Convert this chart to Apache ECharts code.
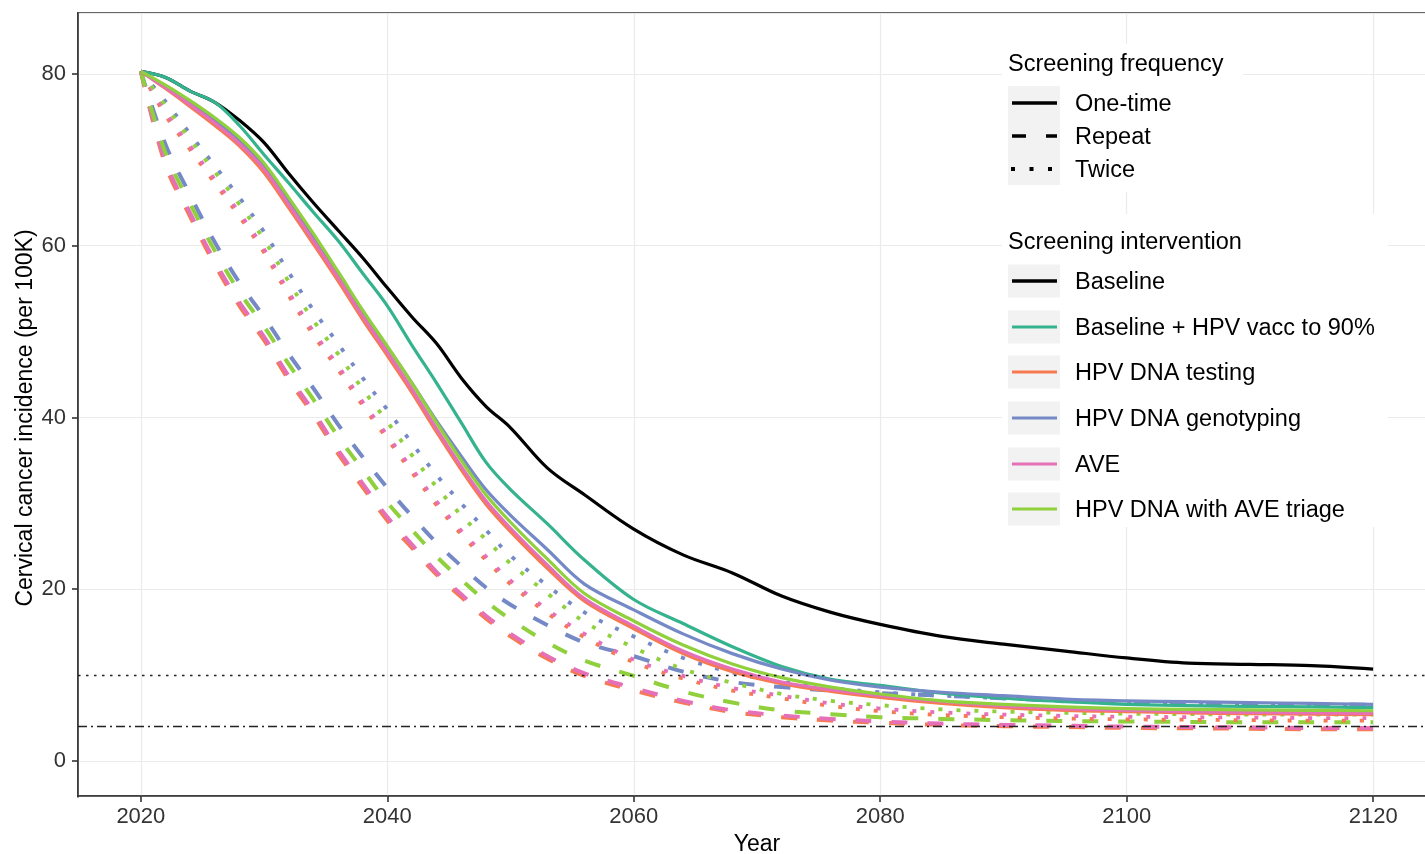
<!DOCTYPE html>
<html>
<head>
<meta charset="utf-8">
<title>Cervical cancer incidence projections</title>
<script src="https://cdn.jsdelivr.net/npm/echarts@6/dist/echarts.min.js"></script>
<style>
  html, body { margin: 0; padding: 0; background: #fff; }
  #chart { width: 1425px; height: 854px; }
</style>
</head>
<body>
<div id="chart"></div>
<script>
// Projection years shared by every scenario
const years = [2020, 2022, 2024, 2026, 2028, 2030, 2032, 2034, 2036, 2038, 2040, 2042, 2044, 2046, 2048, 2050, 2053, 2056, 2060, 2064, 2068, 2072, 2076, 2080, 2085, 2090, 2095, 2100, 2105, 2110, 2115, 2120];

// Axis ticks
const xTicks = [2020, 2040, 2060, 2080, 2100, 2120];
const yTicks = [0, 20, 40, 60, 80];

// Incidence per 100K, one-time screening
const baselineOnce   = [80.3, 79.6, 78.0, 76.7, 74.6, 72.0, 68.4, 65.0, 61.8, 58.6, 55.1, 51.7, 48.6, 44.6, 41.3, 38.8, 34.1, 31.0, 27.0, 24.0, 21.9, 19.2, 17.3, 15.9, 14.5, 13.6, 12.8, 12.0, 11.4, 11.25, 11.1, 10.7];
const vaccOnce       = [80.3, 79.6, 78.0, 76.7, 74.0, 70.6, 67.3, 63.9, 60.6, 56.8, 53.0, 48.4, 44.0, 39.4, 34.8, 31.6, 27.6, 23.4, 18.8, 16.0, 13.3, 11.0, 9.5, 8.8, 7.9, 7.3, 6.9, 6.6, 6.45, 6.35, 6.3, 6.2];
const testingOnce    = [80.3, 78.3, 76.2, 74.0, 71.6, 68.5, 64.4, 60.2, 55.9, 51.4, 47.2, 42.9, 38.3, 33.9, 29.9, 26.7, 22.4, 18.6, 15.4, 12.5, 10.4, 9.0, 8.1, 7.4, 6.7, 6.2, 5.9, 5.75, 5.6, 5.5, 5.45, 5.4];
const genotypingOnce = [80.3, 78.5, 76.6, 74.6, 72.3, 69.3, 65.3, 61.1, 56.8, 52.3, 48.2, 44.0, 39.6, 35.5, 31.6, 28.6, 24.6, 20.6, 17.6, 14.8, 12.5, 10.7, 9.4, 8.6, 8.0, 7.6, 7.2, 7.0, 6.9, 6.8, 6.7, 6.6];
const aveOnce        = [80.3, 78.4, 76.4, 74.3, 71.9, 68.9, 64.8, 60.6, 56.3, 51.8, 47.6, 43.3, 38.7, 34.3, 30.3, 27.1, 22.8, 18.9, 15.7, 12.8, 10.7, 9.2, 8.3, 7.6, 6.9, 6.4, 6.05, 5.9, 5.75, 5.65, 5.6, 5.55];
const triageOnce     = [80.3, 78.7, 76.9, 74.9, 72.6, 69.6, 65.6, 61.4, 57.0, 52.5, 48.3, 44.0, 39.4, 35.0, 31.0, 27.8, 23.5, 19.5, 16.3, 13.5, 11.3, 9.7, 8.6, 7.8, 7.0, 6.6, 6.3, 6.1, 6.0, 5.95, 5.9, 5.85];

// Repeat screening
const testingRepeat    = [80.3, 69.4, 63.4, 57.8, 53.0, 49.0, 44.4, 40.3, 35.8, 31.9, 28.0, 24.8, 21.7, 19.1, 16.6, 14.5, 11.9, 9.9, 8.2, 6.8, 5.7, 5.1, 4.7, 4.45, 4.2, 4.05, 3.95, 3.85, 3.8, 3.75, 3.7, 3.7];
const genotypingRepeat = [80.3, 71.8, 65.9, 60.4, 55.7, 51.7, 47.4, 43.4, 39.2, 35.4, 31.8, 28.5, 25.4, 22.7, 20.2, 18.2, 15.8, 13.8, 12.2, 10.4, 9.2, 8.6, 8.2, 7.9, 7.6, 7.3, 7.0, 6.85, 6.75, 6.65, 6.6, 6.55];
const aveRepeat        = [80.3, 69.8, 63.8, 58.2, 53.4, 49.4, 44.8, 40.7, 36.2, 32.3, 28.4, 25.2, 22.0, 19.4, 16.9, 14.8, 12.2, 10.2, 8.5, 7.0, 5.9, 5.3, 4.9, 4.6, 4.35, 4.2, 4.1, 4.0, 3.95, 3.9, 3.85, 3.85];
const triageRepeat     = [80.3, 70.8, 64.9, 59.4, 54.6, 50.6, 46.2, 42.1, 37.8, 33.9, 30.1, 26.9, 23.8, 21.1, 18.6, 16.5, 13.8, 11.7, 9.9, 8.1, 6.8, 5.9, 5.45, 5.1, 4.9, 4.75, 4.65, 4.6, 4.55, 4.5, 4.5, 4.5];

// Screening twice
const testingTwice    = [80.3, 75.2, 71.2, 67.3, 63.4, 59.2, 54.2, 49.6, 45.6, 41.4, 37.5, 33.6, 29.8, 26.4, 23.4, 20.6, 17.2, 14.4, 11.5, 9.6, 8.2, 7.3, 6.4, 5.8, 5.35, 5.1, 4.95, 4.85, 4.8, 4.75, 4.7, 4.7];
const genotypingTwice = [80.3, 76.8, 73.0, 69.3, 65.6, 61.6, 56.9, 52.5, 48.6, 44.6, 40.9, 37.0, 33.3, 30.0, 26.9, 23.9, 20.4, 17.3, 14.5, 12.0, 10.3, 9.2, 8.5, 8.0, 7.6, 7.3, 7.0, 6.8, 6.7, 6.6, 6.55, 6.5];
const aveTwice        = [80.3, 75.6, 71.6, 67.7, 63.8, 59.6, 54.6, 50.0, 46.0, 41.8, 37.9, 34.0, 30.2, 26.8, 23.8, 21.0, 17.6, 14.8, 11.8, 9.9, 8.5, 7.6, 6.7, 6.1, 5.65, 5.4, 5.25, 5.15, 5.1, 5.05, 5.0, 5.0];
const triageTwice     = [80.3, 76.3, 72.4, 68.6, 64.8, 60.7, 55.8, 51.3, 47.4, 43.3, 39.5, 35.6, 31.9, 28.6, 25.8, 23.0, 19.5, 16.2, 13.2, 10.7, 9.1, 7.8, 7.0, 6.5, 6.0, 5.75, 5.6, 5.5, 5.45, 5.4, 5.4, 5.4];

// Reference levels
const refDotted = 10;
const refDotDash = 4;

// Legend entries
const frequencyNames = ['One-time', 'Repeat', 'Twice'];
const interventionNames = ['Baseline', 'Baseline + HPV vacc to 90%', 'HPV DNA testing', 'HPV DNA genotyping', 'AVE', 'HPV DNA with AVE triage'];

const COLORS = {
  'Baseline': '#000000',
  'Baseline + HPV vacc to 90%': '#35b28e',
  'HPV DNA testing': '#f7794f',
  'HPV DNA genotyping': '#7589c7',
  'AVE': '#e570b8',
  'HPV DNA with AVE triage': '#8fd03c'
};

const FONT = '"Liberation Sans", Arial, Helvetica, sans-serif';

const LINE_TYPES = {
  'One-time': { type: 'solid', width: 3.2 },
  'Repeat':   { type: [16, 20], width: 4 },
  'Twice':    { type: [4, 14], width: 3.8 }
};

// Draw order: repeat, twice, then one-time on top
const scenarios = [
  ['HPV DNA testing', 'Repeat', testingRepeat],
  ['HPV DNA genotyping', 'Repeat', genotypingRepeat],
  ['AVE', 'Repeat', aveRepeat],
  ['HPV DNA with AVE triage', 'Repeat', triageRepeat],
  ['HPV DNA testing', 'Twice', testingTwice],
  ['HPV DNA genotyping', 'Twice', genotypingTwice],
  ['AVE', 'Twice', aveTwice],
  ['HPV DNA with AVE triage', 'Twice', triageTwice],
  ['Baseline', 'One-time', baselineOnce],
  ['Baseline + HPV vacc to 90%', 'One-time', vaccOnce],
  ['HPV DNA testing', 'One-time', testingOnce],
  ['HPV DNA genotyping', 'One-time', genotypingOnce],
  ['AVE', 'One-time', aveOnce],
  ['HPV DNA with AVE triage', 'One-time', triageOnce]
];

const series = scenarios.map(([intervention, freq, values]) => ({
  name: intervention + ' (' + freq + ')',
  type: 'line',
  data: years.map((y, i) => [y, values[i]]),
  showSymbol: false,
  smooth: 0.35,
  silent: true,
  lineStyle: {
    color: COLORS[intervention],
    width: LINE_TYPES[freq].width,
    type: LINE_TYPES[freq].type,
    cap: 'butt',
    join: 'round'
  }
}));

// Horizontal reference lines
series.push({
  name: 'Reference levels',
  type: 'line',
  data: [],
  silent: true,
  markLine: {
    silent: true,
    symbol: 'none',
    label: { show: false },
    animation: false,
    data: [
      { yAxis: refDotted, lineStyle: { color: '#222', width: 1.3, type: [2.5, 5.5] } },
      { yAxis: refDotDash, lineStyle: { color: '#222', width: 1.3, type: [9, 4, 2, 4] } }
    ]
  }
});

// Legend drawn as boxes with grey key backgrounds
const graphics = [];
const LEG_X = 1008, KEY_W = 52, LINE_X1 = 1012, LINE_X2 = 1057, LABEL_X = 1075, LEG_FS = 23.5, TXT_DY = 2;

graphics.push({ type: 'rect', z: 10, shape: { x: 1002, y: 44, width: 241, height: 148 }, style: { fill: '#fff' } });
graphics.push({ type: 'text', z: 11, x: LEG_X, y: 63 + TXT_DY, style: { text: 'Screening frequency', fontSize: LEG_FS, fontFamily: FONT, fill: '#000', align: 'left', verticalAlign: 'middle' } });
graphics.push({ type: 'rect', z: 11, shape: { x: LEG_X, y: 86, width: KEY_W, height: 99 }, style: { fill: '#f2f2f2' } });
const freqRows = [103, 136, 169];
const freqDash = { 'One-time': null, 'Repeat': [14, 20], 'Twice': [4, 14.5] };
frequencyNames.forEach((nm, i) => {
  const cy = freqRows[i];
  graphics.push({ type: 'line', z: 12, shape: { x1: nm === 'Twice' ? 1011 : LINE_X1, y1: cy, x2: LINE_X2, y2: cy },
    style: { stroke: '#000', lineWidth: nm === 'Twice' ? 3.8 : 3.5, lineDash: freqDash[nm], lineCap: 'butt' } });
  graphics.push({ type: 'text', z: 12, x: LABEL_X, y: cy + TXT_DY, style: { text: nm, fontSize: LEG_FS, fontFamily: FONT, fill: '#000', align: 'left', verticalAlign: 'middle' } });
});

graphics.push({ type: 'rect', z: 10, shape: { x: 1002, y: 214, width: 386, height: 313 }, style: { fill: '#fff' } });
graphics.push({ type: 'text', z: 11, x: LEG_X, y: 241 + TXT_DY, style: { text: 'Screening intervention', fontSize: LEG_FS, fontFamily: FONT, fill: '#000', align: 'left', verticalAlign: 'middle' } });
const intRows = [281, 327, 372, 418, 464, 509];
interventionNames.forEach((nm, i) => {
  const cy = intRows[i];
  graphics.push({ type: 'rect', z: 11, shape: { x: LEG_X, y: cy - 16.5, width: KEY_W, height: 33 }, style: { fill: '#f2f2f2' } });
  graphics.push({ type: 'line', z: 12, shape: { x1: LINE_X1, y1: cy, x2: LINE_X2, y2: cy },
    style: { stroke: COLORS[nm], lineWidth: nm === 'Baseline' ? 3.5 : 3.2, lineCap: 'butt' } });
  graphics.push({ type: 'text', z: 12, x: LABEL_X, y: cy + TXT_DY, style: { text: nm, fontSize: LEG_FS, fontFamily: FONT, fill: '#000', align: 'left', verticalAlign: 'middle' } });
});

// Y axis title
graphics.push({ type: 'text', z: 12, x: 26, y: 418, rotation: Math.PI / 2,
  style: { text: 'Cervical cancer incidence (per 100K)', fontSize: 23, fontFamily: FONT, fill: '#000', align: 'center', verticalAlign: 'middle' } });

// Mask the axis ticks that fall on the panel corners (range ends, not tick values)
graphics.push({ type: 'rect', z: 20, shape: { x: 68, y: 8, width: 9, height: 10 }, style: { fill: '#fff' } });
graphics.push({ type: 'rect', z: 20, shape: { x: 68, y: 791, width: 9, height: 10 }, style: { fill: '#fff' } });
graphics.push({ type: 'rect', z: 20, shape: { x: 73, y: 797.5, width: 10, height: 8 }, style: { fill: '#fff' } });

const chart = echarts.init(document.getElementById('chart'), null, { renderer: 'canvas' });
chart.setOption({
  animation: false,
  backgroundColor: '#fff',
  textStyle: { fontFamily: FONT },
  grid: {
    left: 78, top: 13, width: 1358, height: 783,
    show: true, borderColor: '#333', borderWidth: 1.6, backgroundColor: '#fff',
    containLabel: false, outerBoundsMode: 'none'
  },
  xAxis: {
    type: 'value', min: 2014.9, max: 2125.1, splitNumber: 5,
    axisLine: { show: true, onZero: false, lineStyle: { color: '#333', width: 1.6 } },
    axisTick: { show: true, inside: false, length: 6, lineStyle: { color: '#333', width: 1.6 } },
    axisLabel: { customValues: xTicks, margin: 10, fontSize: 22, color: '#333', fontFamily: FONT,
      formatter: v => String(v) },
    splitLine: { show: true, lineStyle: { color: '#ebebeb', width: 1.2 } },
    name: 'Year', nameLocation: 'middle', nameGap: 35,
    nameTextStyle: { fontSize: 23, color: '#000', fontFamily: FONT }
  },
  yAxis: {
    type: 'value', min: -4.08, max: 87.1, splitNumber: 5,
    axisLine: { show: true, onZero: false, lineStyle: { color: '#333', width: 1.6 } },
    axisTick: { show: true, inside: false, length: 6, lineStyle: { color: '#333', width: 1.6 } },
    axisLabel: { customValues: yTicks, margin: 12, fontSize: 22, color: '#333', fontFamily: FONT,
      formatter: v => String(v) },
    splitLine: { show: true, lineStyle: { color: '#ebebeb', width: 1.2 } }
  },
  legend: { show: false },
  tooltip: { show: false },
  series: series,
  graphic: graphics
});
</script>
</body>
</html>
